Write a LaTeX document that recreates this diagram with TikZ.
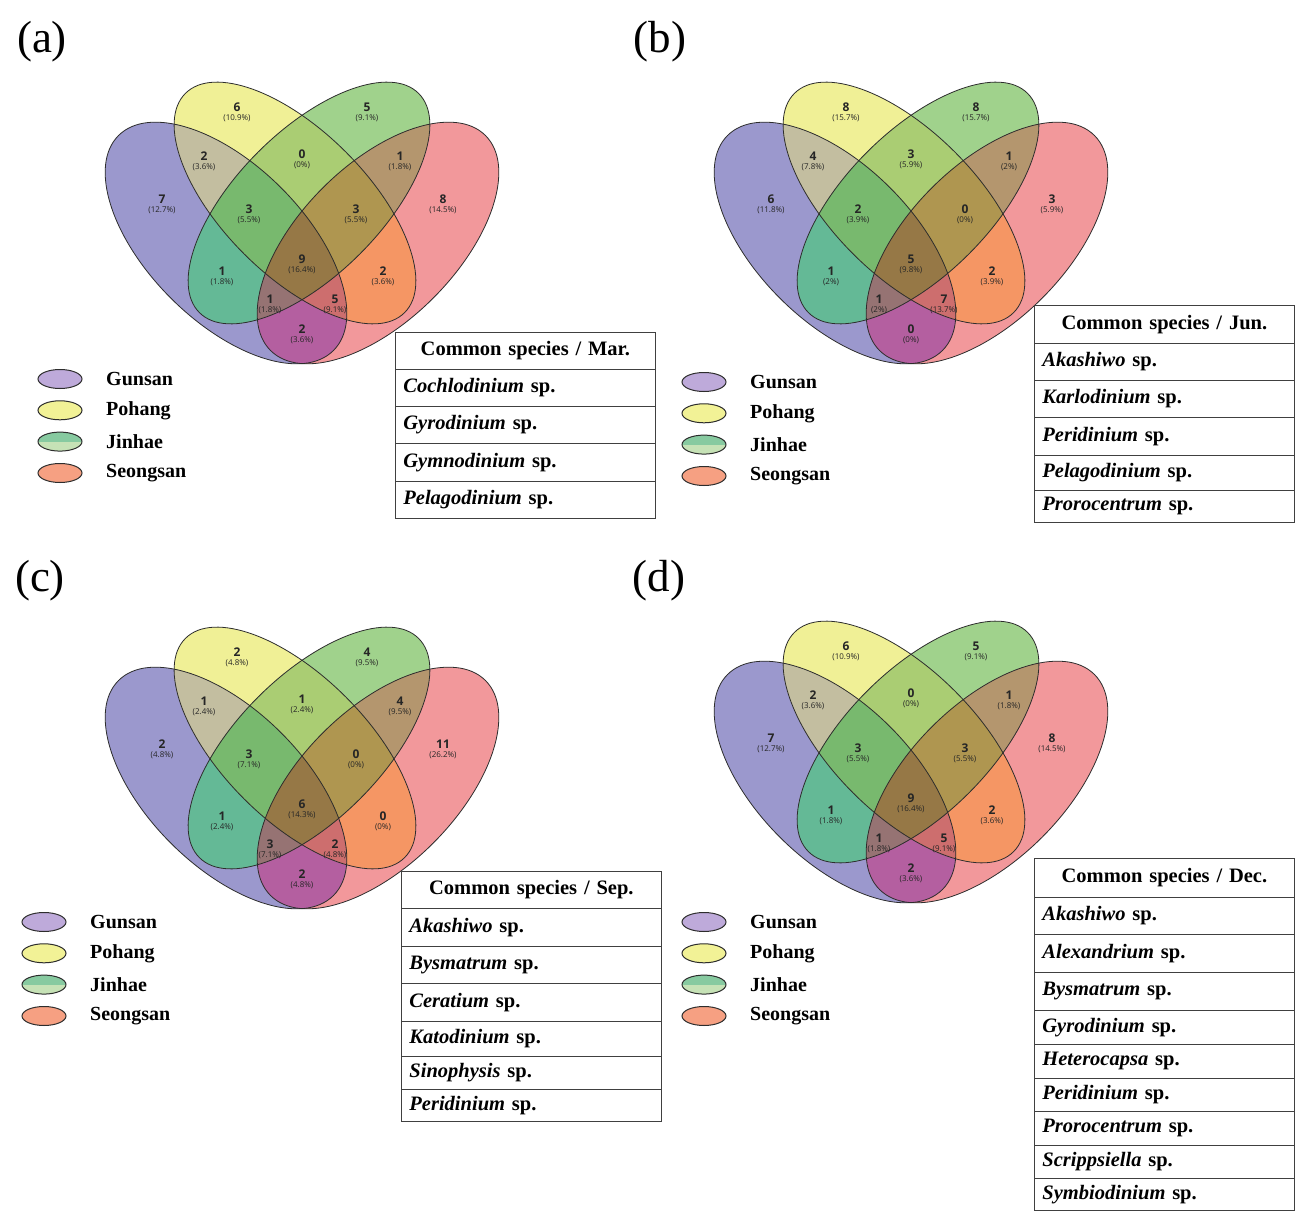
\documentclass[tikz,border=0pt]{standalone}
\usepackage{fontspec}
\setmainfont{Liberation Serif}
\newfontfamily\vennfont{Open Sans}
\usetikzlibrary{shapes.geometric}
\definecolor{cP}{RGB}{155,152,205}
\definecolor{cY}{RGB}{240,240,150}
\definecolor{cG}{RGB}{160,210,140}
\definecolor{cR}{RGB}{242,152,155}
\definecolor{cPY}{RGB}{195,190,160}
\definecolor{cPG}{RGB}{100,185,150}
\definecolor{cPR}{RGB}{180,95,160}
\definecolor{cYG}{RGB}{170,205,115}
\definecolor{cYR}{RGB}{245,150,100}
\definecolor{cGR}{RGB}{180,150,110}
\definecolor{cPYG}{RGB}{120,185,110}
\definecolor{cPYR}{RGB}{205,110,110}
\definecolor{cPGR}{RGB}{150,115,115}
\definecolor{cYGR}{RGB}{175,150,80}
\definecolor{cPYGR}{RGB}{150,120,70}
\definecolor{outl}{RGB}{45,45,45}
\definecolor{lgP}{RGB}{190,170,218}
\definecolor{lgY}{RGB}{242,242,150}
\definecolor{lgGt}{RGB}{135,202,160}
\definecolor{lgGb}{RGB}{198,226,182}
\definecolor{lgR}{RGB}{246,160,130}
\newcommand\vshP[1]{\path[#1,rotate around={-45:(-76,-30)}] (-76,-30) ellipse [x radius=152pt,y radius=78pt];}
\newcommand\vshY[1]{\path[#1,rotate around={-45:(-7,10)}] (-7,10) ellipse [x radius=155pt,y radius=72pt];}
\newcommand\vshG[1]{\path[#1,rotate around={45:(7,10)}] (7,10) ellipse [x radius=155pt,y radius=72pt];}
\newcommand\vshR[1]{\path[#1,rotate around={45:(76,-30)}] (76,-30) ellipse [x radius=152pt,y radius=78pt];}
\newcommand\venngeom{%
  \vshP{fill=cP}\vshY{fill=cY}\vshG{fill=cG}\vshR{fill=cR}%
  \begin{scope}\vshP{clip}\vshY{fill=cPY}\end{scope}%
  \begin{scope}\vshP{clip}\vshG{fill=cPG}\end{scope}%
  \begin{scope}\vshP{clip}\vshR{fill=cPR}\end{scope}%
  \begin{scope}\vshY{clip}\vshG{fill=cYG}\end{scope}%
  \begin{scope}\vshY{clip}\vshR{fill=cYR}\end{scope}%
  \begin{scope}\vshG{clip}\vshR{fill=cGR}\end{scope}%
  \begin{scope}\vshP{clip}\vshY{clip}\vshG{fill=cPYG}\end{scope}%
  \begin{scope}\vshP{clip}\vshY{clip}\vshR{fill=cPYR}\end{scope}%
  \begin{scope}\vshP{clip}\vshG{clip}\vshR{fill=cPGR}\end{scope}%
  \begin{scope}\vshY{clip}\vshG{clip}\vshR{fill=cYGR}\end{scope}%
  \begin{scope}\vshP{clip}\vshY{clip}\vshG{clip}\vshR{fill=cPYGR}\end{scope}%
  \vshP{draw=outl,line width=0.8pt}\vshY{draw=outl,line width=0.8pt}%
  \vshG{draw=outl,line width=0.8pt}\vshR{draw=outl,line width=0.8pt}%
}
\newcommand\vlab[5]{\node[vnum] (#1n) at ({#2},{-(#3)}) {#4};
  \node[vpct] (#1p) at ({#2},{-(#3)-10.8}) {(#5\%)};}
\newcommand\legend[3]{%
  \node[legell,fill=lgP] (#1e1) at (#2,-#3) {};
  \node[legell,fill=lgY] (#1e2) at (#2,{-#3-31.3}) {};
  \node[legell,fill=lgGt,path picture={\fill[lgGb] (path picture bounding box.south west) rectangle (path picture bounding box.east);}] (#1e3) at (#2,{-#3-62.6}) {};
  \node[legell,fill=lgR] (#1e4) at (#2,{-#3-94}) {};
  \node[legtxt] (#1t1) at ({#2+46},-#3) {Gunsan};
  \node[legtxt] (#1t2) at ({#2+46},{-#3-31.3}) {Pohang};
  \node[legtxt] (#1t3) at ({#2+46},{-#3-62.6}) {Jinhae};
  \node[legtxt] (#1t4) at ({#2+46},{-#3-94}) {Seongsan};
}
\begin{document}
\begin{tikzpicture}[x=1pt,y=1pt,
  vnum/.style={font=\vennfont\bfseries\fontsize{12}{13}\selectfont,inner sep=0pt,text=black!85},
  vpct/.style={font=\vennfont\fontsize{8}{9}\selectfont,inner sep=0pt,text=black!85},
  legell/.style={ellipse,draw=outl,line width=1pt,minimum width=44pt,minimum height=19pt,inner sep=0pt},
  legtxt/.style={anchor=west,font=\bfseries\fontsize{20}{21}\selectfont,inner sep=0pt},
  cell/.style={draw=black!75,line width=0.8pt,anchor=north west,text width=244pt,inner xsep=8pt,inner ysep=0pt,align=left,font=\bfseries\fontsize{20.5}{22}\selectfont},
  hcell/.style={cell,align=center},
  plabel/.style={font=\fontsize{45}{48}\selectfont,inner sep=0pt}]
\useasboundingbox (0,0) rectangle (1310,-1225);
\fill[white] (0,0) rectangle (1310,-1225);

% panel labels
\node[plabel] (la) at (42,-42) {(a)};
\node[plabel] (lb) at (660,-42) {(b)};
\node[plabel] (lc) at (40,-581) {(c)};
\node[plabel] (ld) at (659,-581) {(d)};

% ---------- Venn (a)
\begin{scope}[shift={(302,-213)}]
\venngeom
\vlab{aY}{-65}{-105.5}{6}{10.9}
\vlab{aG}{65}{-105.5}{5}{9.1}
\vlab{aPY}{-98}{-57}{2}{3.6}
\vlab{aYG}{0}{-59}{0}{0}
\vlab{aGR}{98}{-57}{1}{1.8}
\vlab{aP}{-140}{-14}{7}{12.7}
\vlab{aR}{141}{-14}{8}{14.5}
\vlab{aPYG}{-53}{-4}{3}{5.5}
\vlab{aYGR}{54}{-4}{3}{5.5}
\vlab{aAll}{0}{46}{9}{16.4}
\vlab{aPG}{-80}{58}{1}{1.8}
\vlab{aYR}{81}{58}{2}{3.6}
\vlab{aPGR}{-32}{86}{1}{1.8}
\vlab{aPYR}{33}{86}{5}{9.1}
\vlab{aPR}{0}{116}{2}{3.6}
\end{scope}

% ---------- Venn (b)
\begin{scope}[shift={(911,-213)}]
\venngeom
\vlab{bY}{-65}{-105.5}{8}{15.7}
\vlab{bG}{65}{-105.5}{8}{15.7}
\vlab{bPY}{-98}{-57}{4}{7.8}
\vlab{bYG}{0}{-59}{3}{5.9}
\vlab{bGR}{98}{-57}{1}{2}
\vlab{bP}{-140}{-14}{6}{11.8}
\vlab{bR}{141}{-14}{3}{5.9}
\vlab{bPYG}{-53}{-4}{2}{3.9}
\vlab{bYGR}{54}{-4}{0}{0}
\vlab{bAll}{0}{46}{5}{9.8}
\vlab{bPG}{-80}{58}{1}{2}
\vlab{bYR}{81}{58}{2}{3.9}
\vlab{bPGR}{-32}{86}{1}{2}
\vlab{bPYR}{33}{86}{7}{13.7}
\vlab{bPR}{0}{116}{0}{0}
\end{scope}

% ---------- Venn (c)
\begin{scope}[shift={(302,-758)}]
\venngeom
\vlab{cY}{-65}{-105.5}{2}{4.8}
\vlab{cG}{65}{-105.5}{4}{9.5}
\vlab{cPY}{-98}{-57}{1}{2.4}
\vlab{cYG}{0}{-59}{1}{2.4}
\vlab{cGR}{98}{-57}{4}{9.5}
\vlab{cP}{-140}{-14}{2}{4.8}
\vlab{cR}{141}{-14}{11}{26.2}
\vlab{cPYG}{-53}{-4}{3}{7.1}
\vlab{cYGR}{54}{-4}{0}{0}
\vlab{cAll}{0}{46}{6}{14.3}
\vlab{cPG}{-80}{58}{1}{2.4}
\vlab{cYR}{81}{58}{0}{0}
\vlab{cPGR}{-32}{86}{3}{7.1}
\vlab{cPYR}{33}{86}{2}{4.8}
\vlab{cPR}{0}{116}{2}{4.8}
\end{scope}

% ---------- Venn (d)
\begin{scope}[shift={(911,-752)}]
\venngeom
\vlab{dY}{-65}{-105.5}{6}{10.9}
\vlab{dG}{65}{-105.5}{5}{9.1}
\vlab{dPY}{-98}{-57}{2}{3.6}
\vlab{dYG}{0}{-59}{0}{0}
\vlab{dGR}{98}{-57}{1}{1.8}
\vlab{dP}{-140}{-14}{7}{12.7}
\vlab{dR}{141}{-14}{8}{14.5}
\vlab{dPYG}{-53}{-4}{3}{5.5}
\vlab{dYGR}{54}{-4}{3}{5.5}
\vlab{dAll}{0}{46}{9}{16.4}
\vlab{dPG}{-80}{58}{1}{1.8}
\vlab{dYR}{81}{58}{2}{3.6}
\vlab{dPGR}{-32}{86}{1}{1.8}
\vlab{dPYR}{33}{86}{5}{9.1}
\vlab{dPR}{0}{116}{2}{3.6}
\end{scope}

% legends
\legend{ga}{60}{379}
\legend{gb}{704}{382}
\legend{gc}{44}{922}
\legend{gd}{704}{922}

% ---------- table (a)
\node[hcell,minimum height=37pt] (ta0) at (395,-332) {Common species / Mar.};
\node[cell,minimum height=37pt] (ta1) at (395,-369) {{\itshape Cochlodinium} sp.};
\node[cell,minimum height=37pt] (ta2) at (395,-406) {{\itshape Gyrodinium} sp.};
\node[cell,minimum height=38pt] (ta3) at (395,-443) {{\itshape Gymnodinium} sp.};
\node[cell,minimum height=37pt] (ta4) at (395,-481) {{\itshape Pelagodinium} sp.};

% ---------- table (b)
\node[hcell,minimum height=38pt] (tb0) at (1034,-305) {Common species / Jun.};
\node[cell,minimum height=37pt] (tb1) at (1034,-343) {{\itshape Akashiwo} sp.};
\node[cell,minimum height=37pt] (tb2) at (1034,-380) {{\itshape Karlodinium} sp.};
\node[cell,minimum height=38pt] (tb3) at (1034,-417) {{\itshape Peridinium} sp.};
\node[cell,minimum height=35pt] (tb4) at (1034,-455) {{\itshape Pelagodinium} sp.};
\node[cell,minimum height=32pt] (tb5) at (1034,-490) {{\itshape Prorocentrum} sp.};

% ---------- table (c)
\node[hcell,minimum height=37pt] (tc0) at (401,-871) {Common species / Sep.};
\node[cell,minimum height=38pt] (tc1) at (401,-908) {{\itshape Akashiwo} sp.};
\node[cell,minimum height=37pt] (tc2) at (401,-946) {{\itshape Bysmatrum} sp.};
\node[cell,minimum height=38pt] (tc3) at (401,-983) {{\itshape Ceratium} sp.};
\node[cell,minimum height=35pt] (tc4) at (401,-1021) {{\itshape Katodinium} sp.};
\node[cell,minimum height=33pt] (tc5) at (401,-1056) {{\itshape Sinophysis} sp.};
\node[cell,minimum height=32pt] (tc6) at (401,-1089) {{\itshape Peridinium} sp.};

% ---------- table (d)
\node[hcell,minimum height=39pt] (td0) at (1034,-858) {Common species / Dec.};
\node[cell,minimum height=37pt] (td1) at (1034,-897) {{\itshape Akashiwo} sp.};
\node[cell,minimum height=38pt] (td2) at (1034,-934) {{\itshape Alexandrium} sp.};
\node[cell,minimum height=38pt] (td3) at (1034,-972) {{\itshape Bysmatrum} sp.};
\node[cell,minimum height=34pt] (td4) at (1034,-1010) {{\itshape Gyrodinium} sp.};
\node[cell,minimum height=34pt] (td5) at (1034,-1044) {{\itshape Heterocapsa} sp.};
\node[cell,minimum height=33pt] (td6) at (1034,-1078) {{\itshape Peridinium} sp.};
\node[cell,minimum height=34pt] (td7) at (1034,-1111) {{\itshape Prorocentrum} sp.};
\node[cell,minimum height=33pt] (td8) at (1034,-1145) {{\itshape Scrippsiella} sp.};
\node[cell,minimum height=32pt] (td9) at (1034,-1178) {{\itshape Symbiodinium} sp.};
\end{tikzpicture}
\end{document}
